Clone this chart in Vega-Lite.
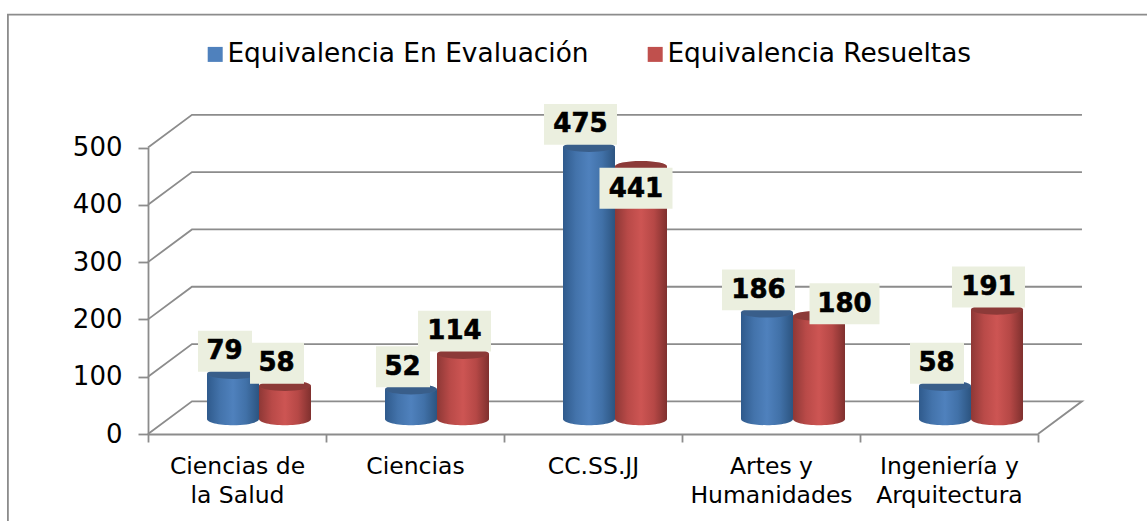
{
"$schema":"https://vega.github.io/schema/vega-lite/v6.json",
"width":1147,"height":521,"padding":0,"autosize":"none","background":"white",
"config":{"view":{"stroke":null},"font":"DejaVu Sans"},
"datasets":{"walls":[
{"g":"frame","px":-0.787,"py":-152},{"g":"frame","px":-0.787,"py":732},{"g":"frame","px":5.62,"py":732},
{"g":"g0","px":5,"py":0},{"g":"g0","px":5.247,"py":57},{"g":"g0","px":0.247,"py":57},{"g":"g0","px":0,"py":0},
{"g":"g100","px":0,"py":100},{"g":"g100","px":0.247,"py":157},{"g":"g100","px":5.247,"py":157},
{"g":"g200","px":0,"py":200},{"g":"g200","px":0.247,"py":257},{"g":"g200","px":5.247,"py":257},
{"g":"g300","px":0,"py":300},{"g":"g300","px":0.247,"py":357},{"g":"g300","px":5.247,"py":357},
{"g":"g400","px":0,"py":400},{"g":"g400","px":0.247,"py":457},{"g":"g400","px":5.247,"py":457},
{"g":"g500","px":0,"py":500},{"g":"g500","px":0.247,"py":557},{"g":"g500","px":5.247,"py":557}
],"bars":[
{"cat":"Ciencias de la Salud","serie":"Equivalencia En Evaluación","v":79},
{"cat":"Ciencias de la Salud","serie":"Equivalencia Resueltas","v":58},
{"cat":"Ciencias","serie":"Equivalencia En Evaluación","v":52},
{"cat":"Ciencias","serie":"Equivalencia Resueltas","v":114},
{"cat":"CC.SS.JJ","serie":"Equivalencia En Evaluación","v":475},
{"cat":"CC.SS.JJ","serie":"Equivalencia Resueltas","v":441},
{"cat":"Artes y Humanidades","serie":"Equivalencia En Evaluación","v":186},
{"cat":"Artes y Humanidades","serie":"Equivalencia Resueltas","v":180},
{"cat":"Ingeniería y Arquitectura","serie":"Equivalencia En Evaluación","v":58},
{"cat":"Ingeniería y Arquitectura","serie":"Equivalencia Resueltas","v":191}
]},
"resolve":{"scale":{"x":"independent","y":"independent"},"axis":{"x":"independent","y":"independent"}},
"layer":[
{"data":{"name":"walls"},"mark":{"type":"line","stroke":"#8c8c8c","strokeWidth":1.8,"clip":false,"order":false},
 "encoding":{
  "x":{"field":"px","type":"quantitative","axis":null,"scale":{"domain":[0,5],"range":[148,1038],"nice":false,"zero":false}},
  "y":{"field":"py","type":"quantitative","scale":{"domain":[0,500],"range":[434,147.5],"nice":false,"zero":false},
   "axis":{"title":null,"values":[0,100,200,300,400,500],"offset":-148,"grid":false,"domainColor":"#8c8c8c","domainWidth":1.8,"tickColor":"#8c8c8c","tickWidth":1.8,"tickSize":10,"labelPadding":16,"labelFontSize":26,"labelFont":"DejaVu Sans","labelColor":"#000000"}},
  "detail":{"field":"g"}}},
{"data":{"name":"bars"},"mark":{"type":"bar","opacity":0},
 "encoding":{
  "x":{"field":"cat","type":"nominal","sort":null,"scale":{"domain":["Ciencias de la Salud","Ciencias","CC.SS.JJ","Artes y Humanidades","Ingeniería y Arquitectura"],"range":[148,1038],"padding":0},
   "axis":{"title":null,"offset":-87,"labelAngle":0,"tickBand":"extent","domainColor":"#8c8c8c","domainWidth":1.8,"tickColor":"#8c8c8c","tickWidth":1.8,"tickSize":8,"labelPadding":12,"labelFontSize":23.5,"labelFont":"DejaVu Sans","labelColor":"#000000","labelLineHeight":29,"labelBaseline":"top","labelLimit":300,
    "labelExpr":"{'Ciencias de la Salud':['Ciencias de','la Salud'],'Artes y Humanidades':['Artes y','Humanidades'],'Ingeniería y Arquitectura':['Ingeniería y','Arquitectura']}[datum.label]||datum.label"}},
  "y":{"field":"v","type":"quantitative","stack":null,"axis":null,"scale":{"domain":[0,500],"range":[434,147.5],"nice":false}}}},
{"data":{"name":"bars"},
 "encoding":{
  "x":{"field":"cat","type":"nominal","sort":null,"axis":null,"scale":{"domain":["Ciencias de la Salud","Ciencias","CC.SS.JJ","Artes y Humanidades","Ingeniería y Arquitectura"],"range":[170,1060],"padding":0}},
  "xOffset":{"field":"serie","type":"nominal","scale":{"domain":["Equivalencia En Evaluación","Equivalencia Resueltas"],"range":[37,141],"padding":0}},
  "y":{"field":"v","type":"quantitative","stack":null,"axis":null,"scale":{"domain":[0,500],"range":[419,132.5],"nice":false}}},
 "layer":[
  {"transform":[{"filter":"datum.serie==='Equivalencia En Evaluación'"}],"mark":{"type":"point","filled":true,"opacity":1,"size":2704,"shape":"M-1 0A1 0.24 0 1 0 1 0A1 0.24 0 1 0 -1 0Z","color":{"gradient":"linear","x1":0,"x2":1,"y1":0,"y2":0,"stops":[{"offset":0,"color":"#2f5a8c"},{"offset":0.25,"color":"#4373ab"},{"offset":0.5,"color":"#4f81bd"},{"offset":0.75,"color":"#4171a8"},{"offset":1,"color":"#2c5480"}]}},"encoding":{"y":{"datum":0,"type":"quantitative"}}},
  {"transform":[{"filter":"datum.serie==='Equivalencia En Evaluación'"}],"mark":{"type":"bar","color":{"gradient":"linear","x1":0,"x2":1,"y1":0,"y2":0,"stops":[{"offset":0,"color":"#2f5a8c"},{"offset":0.25,"color":"#4373ab"},{"offset":0.5,"color":"#4f81bd"},{"offset":0.75,"color":"#4171a8"},{"offset":1,"color":"#2c5480"}]}},"encoding":{"y2":{"datum":0}}},
  {"transform":[{"filter":"datum.serie==='Equivalencia Resueltas'"}],"mark":{"type":"point","filled":true,"opacity":1,"size":2704,"shape":"M-1 0A1 0.24 0 1 0 1 0A1 0.24 0 1 0 -1 0Z","color":{"gradient":"linear","x1":0,"x2":1,"y1":0,"y2":0,"stops":[{"offset":0,"color":"#8e3836"},{"offset":0.25,"color":"#b94a48"},{"offset":0.5,"color":"#cd5553"},{"offset":0.75,"color":"#b64846"},{"offset":1,"color":"#7f302e"}]}},"encoding":{"y":{"datum":0,"type":"quantitative"}}},
  {"transform":[{"filter":"datum.serie==='Equivalencia Resueltas'"}],"mark":{"type":"bar","color":{"gradient":"linear","x1":0,"x2":1,"y1":0,"y2":0,"stops":[{"offset":0,"color":"#8e3836"},{"offset":0.25,"color":"#b94a48"},{"offset":0.5,"color":"#cd5553"},{"offset":0.75,"color":"#b64846"},{"offset":1,"color":"#7f302e"}]}},"encoding":{"y2":{"datum":0}}},
  {"mark":{"type":"point","filled":true,"opacity":1,"size":2704,"shape":"M-1 0A1 0.2 0 1 0 1 0A1 0.2 0 1 0 -1 0Z"},
   "encoding":{"color":{"field":"serie","type":"nominal","scale":{"domain":["Equivalencia En Evaluación","Equivalencia Resueltas"],"range":["#4f81bd","#c0504d"]},
    "legend":{"title":null,"orient":"none","legendX":202,"legendY":41,"direction":"horizontal","columns":2,"symbolType":"square","symbolSize":225,"symbolStrokeWidth":0,"symbolOpacity":1,"labelFontSize":26.4,"labelFont":"DejaVu Sans","labelColor":"#000000","labelOffset":-1,"columnPadding":53,"labelLimit":500}}}},
  {"mark":{"type":"point","filled":true,"opacity":0.27,"color":"#000000","size":2704,"shape":"M-1 0A1 0.2 0 1 0 1 0A1 0.2 0 1 0 -1 0Z"}},
  {"transform":[{"filter":"datum.v!==441&&datum.v!==180&&datum.v>=100"}],"mark":{"type":"point","filled":true,"opacity":1,"color":"#ebefdf","size":5329,"shape":"M-1.233 -0.56H0.767V0.56H-1.233Z","yOffset":-22.5}},
  {"transform":[{"filter":"datum.v<100"}],"mark":{"type":"point","filled":true,"opacity":1,"color":"#ebefdf","size":2916,"shape":"M-1.296 -0.76H0.704V0.76H-1.296Z","yOffset":-22.5}},
  {"transform":[{"filter":"datum.v!==441&&datum.v!==180"}],"mark":{"type":"text","font":"DejaVu Sans","fontWeight":"bold","fontSize":26,"color":"#000000","stroke":"#000000","strokeWidth":0.6,"baseline":"middle","dx":-8.5,"yOffset":-22.5},"encoding":{"text":{"field":"v","type":"quantitative"}}},
  {"transform":[{"filter":"datum.v===441"}],"mark":{"type":"point","filled":true,"opacity":1,"color":"#ebefdf","size":5329,"shape":"M-1.137 -0.56H0.863V0.56H-1.137Z","yOffset":22}},
  {"transform":[{"filter":"datum.v===441"}],"mark":{"type":"text","font":"DejaVu Sans","fontWeight":"bold","fontSize":26,"color":"#000000","stroke":"#000000","strokeWidth":0.6,"baseline":"middle","dx":-5,"yOffset":23},"encoding":{"text":{"field":"v","type":"quantitative"}}},
  {"transform":[{"filter":"datum.v===180"}],"mark":{"type":"point","filled":true,"opacity":1,"color":"#ebefdf","size":4900,"shape":"M-0.271 -0.586H1.729V0.586H-0.271Z","yOffset":-12}},
  {"transform":[{"filter":"datum.v===180"}],"mark":{"type":"text","font":"DejaVu Sans","fontWeight":"bold","fontSize":26,"color":"#000000","stroke":"#000000","strokeWidth":0.6,"baseline":"middle","dx":25.5,"yOffset":-12},"encoding":{"text":{"field":"v","type":"quantitative"}}}
 ]}
]
}
